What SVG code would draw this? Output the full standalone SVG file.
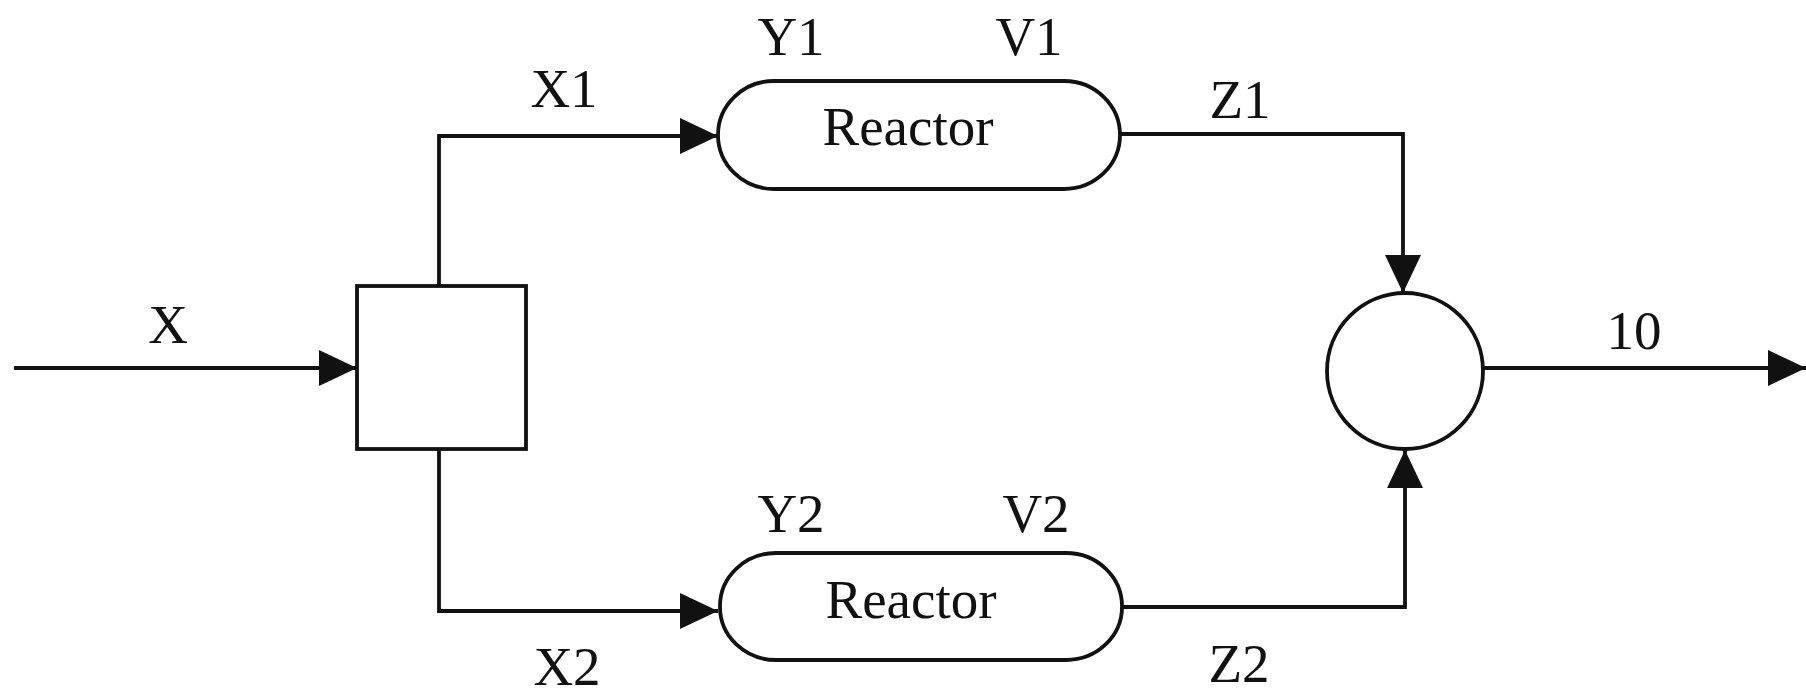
<svg xmlns="http://www.w3.org/2000/svg" width="1806" height="694" viewBox="0 0 1806 694">
  <style>
    .ln { fill: none; stroke: #111; stroke-width: 3.8; }
    .shape { fill: #fff; stroke: #111; stroke-width: 3.8; }
    .lbl { font-family: "Liberation Serif", "Times New Roman", serif; font-size: 55px; fill: #111; text-anchor: middle; }
  </style>
  <defs>
    <marker id="arr" markerUnits="userSpaceOnUse" markerWidth="40" markerHeight="38" refX="38" refY="18" orient="auto">
      <path d="M0,0 L38,18 L0,36 z" fill="#111"/>
    </marker>
  </defs>
  <rect width="1806" height="694" fill="#fff"/>

  <g id="connectors">
    <path class="ln" d="M14,368 H357" marker-end="url(#arr)"/>
    <path class="ln" d="M439,286 V136 H718" marker-end="url(#arr)"/>
    <path class="ln" d="M439,449 V611 H718" marker-end="url(#arr)"/>
    <path class="ln" d="M1120,134 H1403 V293" marker-end="url(#arr)"/>
    <path class="ln" d="M1122,607 H1405 V450" marker-end="url(#arr)"/>
    <path class="ln" d="M1483,368 H1806" marker-end="url(#arr)"/>
  </g>

  <g id="splitter">
    <rect class="shape" x="357" y="286" width="169" height="163"/>
  </g>

  <g id="reactor1">
    <rect class="shape" x="718" y="81" width="402" height="108" rx="56" ry="54"/>
    <text class="lbl" x="908" y="145">Reactor</text>
  </g>

  <g id="reactor2">
    <rect class="shape" x="720" y="553" width="402" height="107" rx="56" ry="53"/>
    <text class="lbl" x="911" y="618">Reactor</text>
  </g>

  <g id="mixer">
    <circle class="shape" cx="1405" cy="371" r="78"/>
  </g>

  <g id="labels">
    <text class="lbl" x="168" y="343">X</text>
    <text class="lbl" x="564" y="107">X1</text>
    <text class="lbl" x="791" y="55">Y1</text>
    <text class="lbl" x="1029" y="55">V1</text>
    <text class="lbl" x="1240" y="118">Z1</text>
    <text class="lbl" x="1634" y="349">10</text>
    <text class="lbl" x="791" y="532">Y2</text>
    <text class="lbl" x="1036" y="532">V2</text>
    <text class="lbl" x="567" y="685">X2</text>
    <text class="lbl" x="1239" y="682">Z2</text>
  </g>
</svg>
